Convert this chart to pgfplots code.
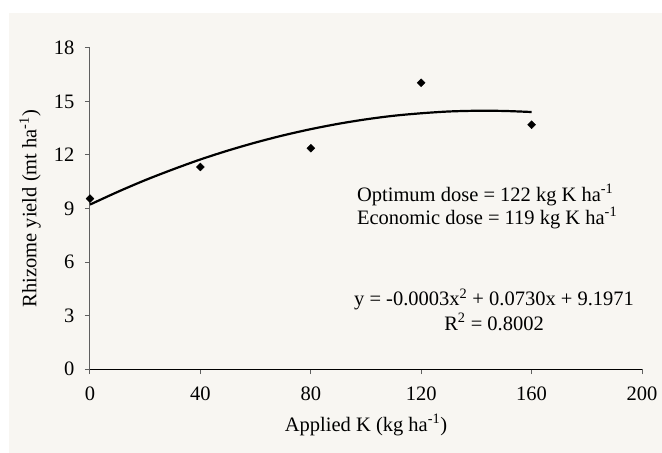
\documentclass[border=0pt]{standalone}
\usepackage{pgfplots}
\pgfplotsset{compat=1.18}
\usepackage{fontspec}
\setmainfont{Liberation Serif}
\definecolor{bgc}{RGB}{248,246,242}
\definecolor{axgray}{RGB}{95,95,95}

\begin{document}
\begin{tikzpicture}[font=\fontsize{20.5bp}{24.5bp}\selectfont]
\useasboundingbox (-90bp,-84bp) rectangle (572bp,369bp);
\fill[white] (-90bp,-84bp) rectangle (572bp,369bp);
\fill[bgc] (-81bp,-84bp) rectangle (572bp,356bp);
\begin{axis}[
    scale only axis,
    width=552bp, height=321bp,
    xmin=0, xmax=200, ymin=0, ymax=18,
    xtick={0,40,...,200}, ytick={0,3,...,18},
    axis x line=bottom, axis y line=left,
    axis line style={-, line width=1bp},
    x axis line style={black},
    y axis line style={axgray},
    tick align=outside, major tick length=5bp,
    tick style={axgray, line width=1bp},
    font=\fontsize{20.5bp}{24.5bp}\selectfont,
    /pgf/number format/assume math mode=true,
    yticklabel style={xshift=-7bp},
    xticklabel style={yshift=-9bp},
    xlabel={Applied K (kg ha\textsuperscript{-1})},
    ylabel={Rhizome yield (mt ha\textsuperscript{-1})},
    xlabel style={at={([yshift=-56bp]rel axis cs:0.5,0)}, anchor=center},
    ylabel style={at={([xshift=-60bp]rel axis cs:0,0.5)}, anchor=center},
    clip=false,
]
% trend line
\addplot[black, line width=2.2bp, smooth] coordinates {
    (0,9.22) (10,9.93) (20,10.59) (30,11.19) (40,11.75) (50,12.25)
    (60,12.70) (70,13.10) (80,13.45) (90,13.75) (100,14.00)
    (110,14.20) (120,14.34) (130,14.44) (140,14.48) (150,14.47) (160,14.41)
};
% observed yields
\addplot[only marks, mark=square*, mark size=2.8bp,
    mark options={rotate=45, fill=black, draw=black}] coordinates {
    (0,9.55) (40,11.33) (80,12.38) (120,16.05) (160,13.70)
};
\node[anchor=west, inner sep=0pt] at (axis cs:96.7,9.76)
    {Optimum dose = 122 kg K ha\textsuperscript{-1}};
\node[anchor=west, inner sep=0pt] at (axis cs:96.7,8.47)
    {Economic dose = 119 kg K ha\textsuperscript{-1}};
\node[align=center, inner sep=0pt] at (axis cs:146.4,3.34)
    {y = -0.0003x\textsuperscript{2} + 0.0730x + 9.1971\\R\textsuperscript{2} = 0.8002};
\end{axis}
\end{tikzpicture}
\end{document}
